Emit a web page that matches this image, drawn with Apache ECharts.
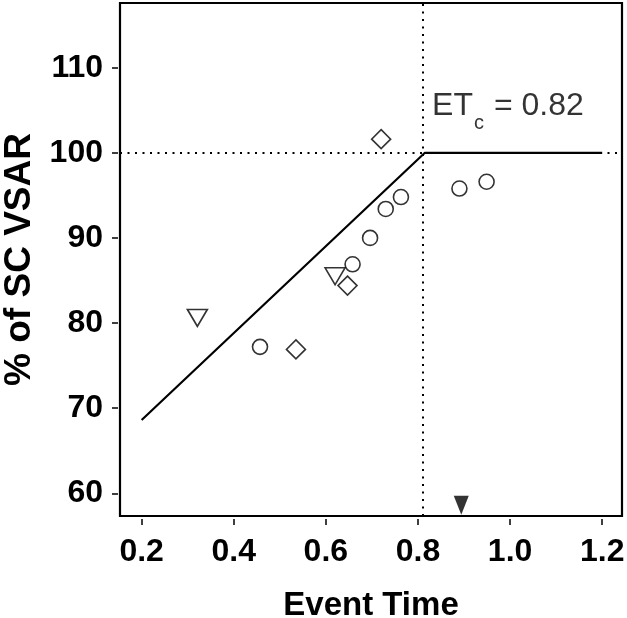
<!DOCTYPE html>
<html><head><meta charset="utf-8">
<script src="https://cdn.jsdelivr.net/npm/echarts@6/dist/echarts.min.js"></script>
<style>html,body{margin:0;padding:0;background:#fff}#c{width:627px;height:618px}</style>
</head><body><div id="c"></div>
<script>
const xTicks = [0.2, 0.4, 0.6, 0.8, 1.0, 1.2];
const yTicks = [60, 70, 80, 90, 100, 110];
const circleX = [0.457, 0.658, 0.696, 0.730, 0.763, 0.890, 0.949];
const circleY = [77.2, 86.9, 90.0, 93.4, 94.8, 95.8, 96.6];
const diamondX = [0.535, 0.647, 0.720];
const diamondY = [76.9, 84.4, 101.6];
const triangleX = [0.321, 0.620];
const triangleY = [80.6, 85.5];
const fitX = [0.2, 0.815, 1.2];
const fitY = [68.6, 100, 100];
const etc = 0.815;
const refY = 100;
const arrowPt = [0.894, 58.6];
const labelPt = [0.8307, 105.2];

const zip = (a, b) => a.map((v, i) => [v, b[i]]);
const FONT = "'Liberation Sans', Arial, Helvetica, sans-serif";
const open = { color: 'rgba(0,0,0,0)', borderColor: '#000', borderWidth: 1.6 };

const chart = echarts.init(document.getElementById('c'), null, { renderer: 'canvas' });
chart.setOption({
  animation: false,
  backgroundColor: '#fff',
  grid: { left: 120, right: 5, top: 3, bottom: 102, show: true, borderColor: '#000', borderWidth: 2.2, backgroundColor: 'transparent', containLabel: false, outerBoundsMode: 'none' },
  xAxis: {
    type: 'value', min: 0.153, max: 1.243, offset: 3,
    splitLine: { show: false }, axisLine: { show: false },
    axisTick: { show: true, length: 6, lineStyle: { color: '#000', width: 1.5 }, customValues: xTicks },
    axisLabel: { customValues: xTicks, formatter: v => v.toFixed(1), fontSize: 32, fontWeight: 'bold', color: '#000', fontFamily: FONT, margin: 17 },
    name: 'Event Time', nameLocation: 'middle', nameGap: 70,
    nameTextStyle: { fontSize: 33, fontWeight: 'bold', color: '#000', fontFamily: FONT }
  },
  yAxis: {
    type: 'value', min: 57.33, max: 117.6, offset: 2,
    splitLine: { show: false }, axisLine: { show: false },
    axisTick: { show: true, length: 6, lineStyle: { color: '#000', width: 1.5 }, customValues: yTicks },
    axisLabel: { customValues: yTicks, fontSize: 32, fontWeight: 'bold', color: '#000', fontFamily: FONT, margin: 15 },
    name: '% of SC VSAR', nameLocation: 'middle', nameGap: 76,
    nameTextStyle: { fontSize: 37, fontWeight: 'bold', color: '#000', fontFamily: FONT }
  },
  series: [
    {
      type: 'line', data: zip(fitX, fitY), symbol: 'none', silent: true,
      lineStyle: { color: '#000', width: 2.2 },
      markLine: {
        silent: true, symbol: ['none', 'none'], label: { show: false },
        lineStyle: { color: '#000', width: 2, type: [2, 5.5] },
        data: [{ xAxis: etc }, { yAxis: refY }]
      },
      z: 3
    },
    { type: 'scatter', data: zip(circleX, circleY), symbol: 'circle', symbolSize: 15, itemStyle: open, silent: true, z: 4 },
    { type: 'scatter', data: zip(diamondX, diamondY), symbol: 'diamond', symbolSize: 19, itemStyle: open, silent: true, z: 4 },
    { type: 'scatter', data: zip(triangleX, triangleY), symbol: 'triangle', symbolRotate: 180, symbolSize: [20, 17], itemStyle: open, silent: true, z: 4 },
    { type: 'scatter', data: [arrowPt], symbol: 'triangle', symbolRotate: 180, symbolSize: [15, 19], itemStyle: { color: '#000' }, silent: true, z: 5 },
    {
      type: 'scatter', data: [labelPt], symbolSize: 0, silent: true, z: 6,
      label: {
        show: true, position: 'right', distance: 0, color: '#000',
        formatter: '{a|ET}{b|c}{a| = 0.82}',
        rich: {
          a: { fontSize: 32, fontFamily: FONT, color: '#000', lineHeight: 36, verticalAlign: 'top' },
          b: { fontSize: 20, fontFamily: FONT, color: '#000', lineHeight: 20, verticalAlign: 'top', padding: [23, 1, 0, 1] }
        }
      }
    }
  ]
});
</script>
</body></html>
